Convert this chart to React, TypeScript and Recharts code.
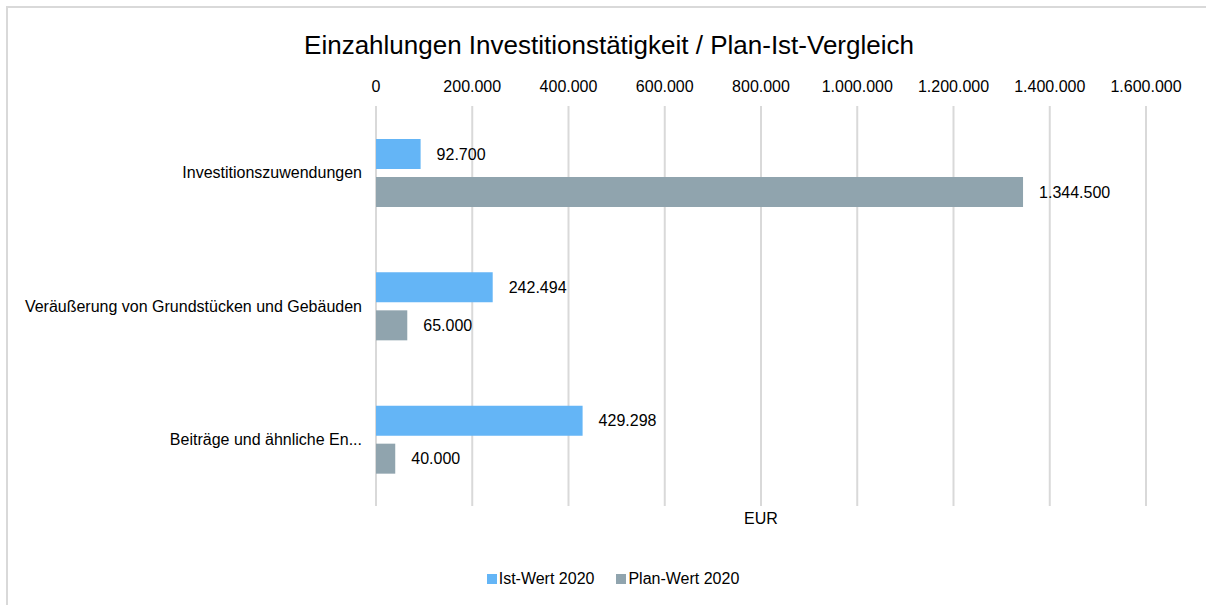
import React from 'react';
import { BarChart, Bar, XAxis, YAxis, CartesianGrid, LabelList } from 'recharts';

const categories = [
  'Investitionszuwendungen',
  'Veräußerung von Grundstücken und Gebäuden',
  'Beiträge und ähnliche En...',
];
const istWerte = [92700, 242494, 429298];
const planWerte = [1344500, 65000, 40000];
const xTicks = [0, 200000, 400000, 600000, 800000, 1000000, 1200000, 1400000, 1600000];
const seriesNames = ['Ist-Wert 2020', 'Plan-Wert 2020'];

const chartTitle = 'Einzahlungen Investitionstätigkeit / Plan-Ist-Vergleich';
const axisUnit = 'EUR';

const colors = ['#64B5F6', '#90A4AE'];
const font = '"Liberation Sans", Arial, sans-serif';

const data = categories.map((name, i) => ({ name, ist: istWerte[i], plan: planWerte[i] }));

// german number format, 1344500 -> 1.344.500
const fmt = (v: number) => String(Math.round(v)).replace(/\B(?=(\d{3})+(?!\d))/g, '.');

export default function App() {
  return (
    <div
      style={{
        position: 'absolute',
        left: 0,
        top: 0,
        width: 1206,
        height: 605,
        overflow: 'hidden',
        background: '#fff',
        fontFamily: font,
      }}
    >
      <div
        style={{
          position: 'absolute',
          left: 6,
          top: 6,
          width: 1220,
          height: 620,
          border: '2px solid #d9d9d9',
        }}
      />
      <div
        style={{
          position: 'absolute',
          left: 0,
          width: 1218,
          top: 29,
          textAlign: 'center',
          fontSize: 26,
          lineHeight: '32px',
          color: '#000',
        }}
      >
        {chartTitle}
      </div>
      <div style={{ position: 'absolute', left: 0, top: 0 }}>
        <BarChart
          width={1206}
          height={605}
          data={data}
          layout="vertical"
          margin={{ top: 76, right: 60, bottom: 99, left: 0 }}
          barSize={30}
          barGap={8}
        >
          <CartesianGrid horizontal={false} stroke="#d9d9d9" strokeWidth={2} />
          <XAxis
            type="number"
            orientation="top"
            height={30}
            domain={[0, 1600000]}
            ticks={xTicks}
            tickFormatter={fmt}
            axisLine={false}
            tickLine={false}
            tickSize={0}
            tickMargin={14}
            interval={0}
            tick={{ fill: '#000', fontSize: 16, fontFamily: font }}
          />
          <YAxis
            type="category"
            dataKey="name"
            width={376}
            axisLine={false}
            tickLine={false}
            tickSize={0}
            tickMargin={14}
            interval={0}
            tick={{ fill: '#000', fontSize: 16, fontFamily: font }}
          />
          <Bar dataKey="ist" name={seriesNames[0]} fill={colors[0]} isAnimationActive={false}>
            <LabelList
              dataKey="ist"
              position="right"
              offset={16}
              formatter={(v: any) => fmt(Number(v))}
              style={{ fill: '#000', fontSize: 16, fontFamily: font }}
            />
          </Bar>
          <Bar dataKey="plan" name={seriesNames[1]} fill={colors[1]} isAnimationActive={false}>
            <LabelList
              dataKey="plan"
              position="right"
              offset={16}
              formatter={(v: any) => fmt(Number(v))}
              style={{ fill: '#000', fontSize: 16, fontFamily: font }}
            />
          </Bar>
        </BarChart>
      </div>
      <div
        style={{
          position: 'absolute',
          left: 376,
          width: 770,
          top: 509,
          textAlign: 'center',
          fontSize: 16,
          lineHeight: '20px',
          color: '#000',
        }}
      >
        {axisUnit}
      </div>
      <div
        style={{
          position: 'absolute',
          left: 0,
          width: 1226,
          top: 569,
          display: 'flex',
          justifyContent: 'center',
          fontSize: 16,
          lineHeight: '20px',
          color: '#000',
        }}
      >
        {seriesNames.map((n, i) => (
          <div key={n} style={{ display: 'flex', alignItems: 'center', marginRight: i === 0 ? 22 : 0 }}>
            <span style={{ display: 'inline-block', width: 10, height: 10, background: colors[i], marginRight: 2 }} />
            <span>{n}</span>
          </div>
        ))}
      </div>
    </div>
  );
}
